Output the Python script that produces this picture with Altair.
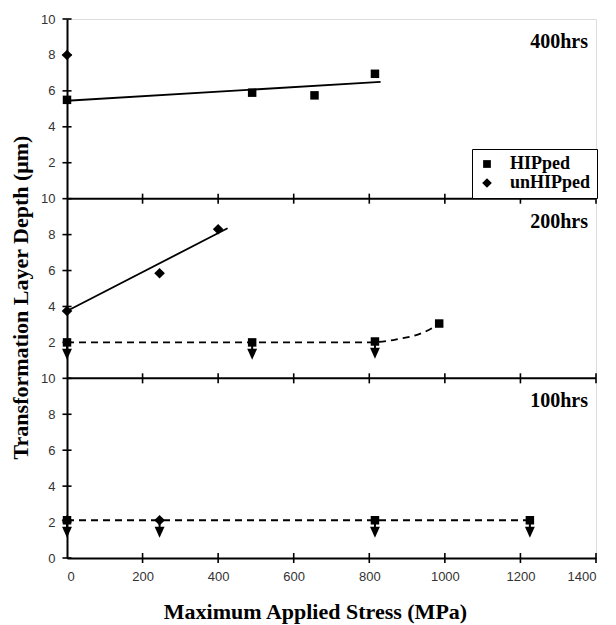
import altair as alt
import pandas as pd

# ---------------- data ----------------
panels = ["400hrs", "200hrs", "100hrs"]
panel_offset = {"400hrs": 20, "200hrs": 10, "100hrs": 0}

# HIPped specimens (squares)
hip_400_x = [0, 490, 655, 815]
hip_400_y = [5.5, 5.9, 5.75, 6.95]
hip_200_x = [0, 490, 815, 985]
hip_200_y = [2.0, 2.0, 2.05, 3.05]
hip_100_x = [0, 815, 1225]
hip_100_y = [2.1, 2.1, 2.1]

# unHIPped specimens (diamonds)
unhip_400_x = [0]
unhip_400_y = [8.0]
unhip_200_x = [0, 245, 400]
unhip_200_y = [3.75, 5.85, 8.3]
unhip_100_x = [0, 245]
unhip_100_y = [2.1, 2.1]

# trend lines
fit_400_x = [0, 830]
fit_400_y = [5.45, 6.5]
fit_200u_x = [0, 425]
fit_200u_y = [3.75, 8.35]
fit_200h_x = [0, 790, 845, 880, 915, 945, 967, 980]
fit_200h_y = [2.0, 2.0, 2.07, 2.2, 2.35, 2.57, 2.8, 3.0]
fit_100_x = [0, 1225]
fit_100_y = [2.1, 2.1]

# below-detection-limit arrows
arrow_200_x = [0, 490, 815]
arrow_200_y = [2.0, 2.0, 2.05]
arrow_100_x = [0, 245, 815, 1225]
arrow_100_y = [2.1, 2.1, 2.1, 2.1]

x_ticks = [0, 200, 400, 600, 800, 1000, 1200, 1400]
y_ticks = list(range(0, 31, 2))
boundaries = [0, 10, 20]

# ---------------- tables ----------------
def pts(panel, group, xs, ys):
    return [dict(panel=panel, group=group, stress=x, depth=y) for x, y in zip(xs, ys)]

points = pd.DataFrame(
    pts("400hrs", "HIPped", hip_400_x, hip_400_y)
    + pts("200hrs", "HIPped", hip_200_x, hip_200_y)
    + pts("100hrs", "HIPped", hip_100_x, hip_100_y)
    + pts("400hrs", "unHIPped", unhip_400_x, unhip_400_y)
    + pts("200hrs", "unHIPped", unhip_200_x, unhip_200_y)
    + pts("100hrs", "unHIPped", unhip_100_x, unhip_100_y)
)
points["yp"] = points["depth"] + points["panel"].map(panel_offset)


def line(panel, lid, style, xs, ys):
    return [dict(panel=panel, lid=lid, style=style, i=i, stress=x, depth=y)
            for i, (x, y) in enumerate(zip(xs, ys))]

lines = pd.DataFrame(
    line("400hrs", "a", "solid", fit_400_x, fit_400_y)
    + line("200hrs", "b", "solid", fit_200u_x, fit_200u_y)
    + line("200hrs", "c", "dash", fit_200h_x, fit_200h_y)
    + line("100hrs", "d", "dash", fit_100_x, fit_100_y)
)
lines["yp"] = lines["depth"] + lines["panel"].map(panel_offset)

arrows = pd.DataFrame(
    pts("200hrs", "", arrow_200_x, arrow_200_y) + pts("100hrs", "", arrow_100_x, arrow_100_y)
)
arrows["yp"] = arrows["depth"] + arrows["panel"].map(panel_offset)
arrows["shaft_end"] = arrows["yp"] - 0.42
arrows["head"] = arrows["yp"] - 0.66

labels = pd.DataFrame({"panel": panels, "stress": [1400] * 3,
                       "yp": [panel_offset[p] + 10 for p in panels]})

# small crossing tick marks on the panel boundaries and the left axis
xt = pd.DataFrame([dict(stress=x, tlo=b - 0.28, thi=b + 0.28) for x in x_ticks[1:] for b in boundaries])
yt = pd.DataFrame([dict(yp=y, slo=-12.0, shi=12.0) for y in y_ticks])
bounds = pd.DataFrame({"yp": boundaries[1:]})

# ---------------- encodings ----------------
xscale = alt.Scale(domain=[0, 1400], nice=False)
yscale = alt.Scale(domain=[0, 30], nice=False)

xaxis = alt.Axis(values=x_ticks, format="d", title="Maximum Applied Stress (MPa)", grid=False,
                 ticks=False, domainColor="black", domainWidth=2,
                 labelFont="Liberation Sans", labelFontSize=13, labelColor="#333",
                 labelPadding=12, titleFont="Liberation Serif", titleFontSize=22,
                 titleFontWeight="bold", titleColor="black", titlePadding=18,
                 titleX=248, titleAnchor="middle")
yaxis = alt.Axis(values=y_ticks, title="Transformation Layer Depth (\u03bcm)", grid=False,
                 ticks=False, domainColor="black", domainWidth=2,
                 labelExpr="datum.value == 0 ? '0' : (datum.value % 10 == 0 ? '10' : '' + (datum.value % 10))",
                 labelFont="Liberation Sans", labelFontSize=13, labelColor="#333",
                 labelPadding=12, titleFont="Liberation Serif", titleFontSize=22,
                 titleFontWeight="bold", titleColor="black", titlePadding=8,
                 titleY=278, titleAnchor="middle")

X = alt.X("stress:Q", scale=xscale, axis=xaxis)
Y = alt.Y("yp:Q", scale=yscale, axis=yaxis)

sep = alt.Chart(bounds).mark_rule(color="black", strokeWidth=2).encode(y=Y)

xtick_layer = alt.Chart(xt).mark_rule(color="black", strokeWidth=1.6).encode(
    x=X, y=alt.Y("tlo:Q", scale=yscale, axis=yaxis), y2="thi:Q")
ytick_layer = alt.Chart(yt).mark_rule(color="black", strokeWidth=1.6).encode(
    y=Y, x=alt.X("slo:Q", scale=xscale, axis=xaxis), x2="shi:Q")

solid = alt.Chart(lines[lines["style"] == "solid"]).mark_line(
    color="black", strokeWidth=1.8).encode(x=X, y=Y, detail="lid:N", order="i:Q")
dashed = alt.Chart(lines[lines["style"] == "dash"]).mark_line(
    color="black", strokeWidth=1.8, strokeDash=[7, 5], interpolate="monotone").encode(
    x=X, y=Y, detail="lid:N", order="i:Q")

shaft = alt.Chart(arrows).mark_rule(color="black", strokeWidth=2).encode(
    x=X, y=Y, y2="shaft_end:Q")
head = alt.Chart(arrows).mark_point(
    shape="M-0.9,-1L0.9,-1L0,1Z", filled=True, color="black", opacity=1, size=121).encode(
    x=X, y=alt.Y("head:Q", scale=yscale, axis=yaxis))

diamond_path = "M0,-1.25L1.25,0L0,1.25L-1.25,0Z"
marks = alt.Chart(points).mark_point(filled=True, color="black", opacity=1, size=72).encode(
    x=X, y=Y,
    shape=alt.Shape("group:N", scale=alt.Scale(domain=["HIPped", "unHIPped"],
                                               range=["square", diamond_path]),
                    legend=alt.Legend(title=None, orient="none", legendX=405, legendY=130,
                                      fillColor="white", strokeColor="black",
                                      padding=6, labelFont="Liberation Serif",
                                      labelFontSize=18, labelFontWeight="bold",
                                      labelColor="black", symbolSize=60,
                                      symbolFillColor="black", symbolStrokeColor="black",
                                      symbolOpacity=1,
                                      labelOffset=14, rowPadding=1)),
)

text = alt.Chart(labels).mark_text(
    align="right", baseline="middle", dx=-8, dy=23, font="Liberation Serif",
    fontSize=20, fontWeight="bold", color="black").encode(x=X, y=Y, text="panel:N")

chart = alt.layer(sep, xtick_layer, ytick_layer, solid, dashed, shaft, head, marks, text).properties(
    width=529, height=539,
    autosize=alt.AutoSizeParams(type="none"),
    padding={"left": 67, "top": 19, "right": 20, "bottom": 67},
).configure_view(stroke="#999", strokeWidth=1).configure(background="white")

chart.save("out.html", embed_options={"renderer": "svg", "actions": False})
